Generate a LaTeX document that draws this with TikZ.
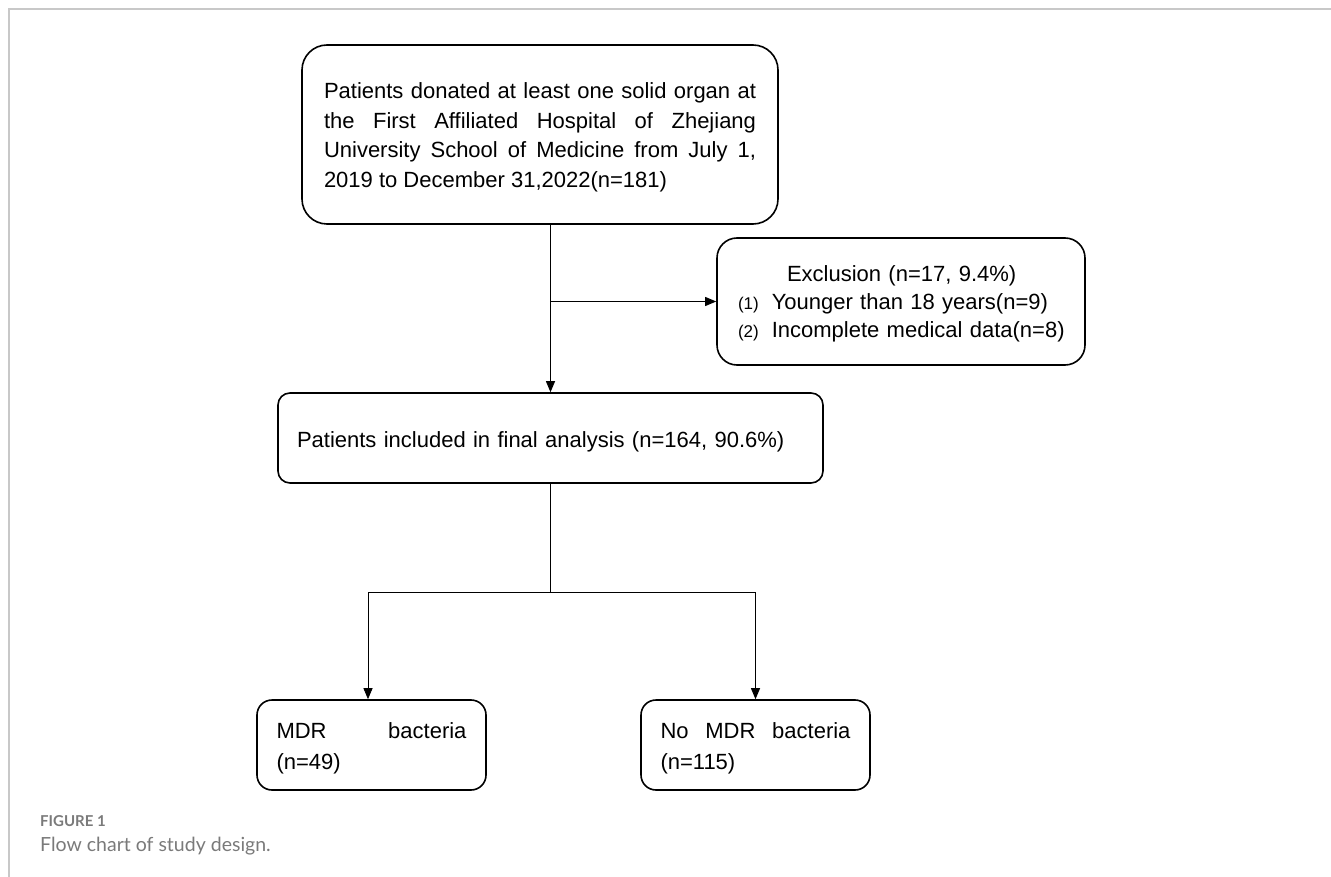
\documentclass[tikz,border=0pt]{standalone}
\usepackage{fontspec}
\setmainfont{Liberation Sans}
\newfontfamily\capfont{Lato}
\usepackage{tikz}
\usetikzlibrary{arrows.meta}
\definecolor{framegray}{HTML}{C8C8C8}
\definecolor{capgray}{HTML}{7A7A7A}
\newcommand{\lift}[1]{\rule{0pt}{#1}}

\begin{document}
\begin{tikzpicture}[x=1pt,y=1pt]
	\tikzstyle{every node}+=[inner sep=0pt]
	\tikzstyle{box}=[draw=black, line width=1.6pt, rounded corners=15pt, minimum width=229pt, minimum height=90pt, font=\fontsize{22}{31}\selectfont]
	\tikzstyle{link}=[line width=0.9pt, -{Triangle[length=11pt,width=9pt]}]
	\useasboundingbox (0,0) rectangle (1331,-877);
	\draw [framegray, line width=1.5pt] (9,-877) -- (9,-9) -- (1331,-9);
	\node [box, rounded corners=25pt, minimum width=476pt, minimum height=179pt, text width=432pt, align=justify, font=\fontsize{22}{29.5}\selectfont] (donor) at (540,-134.5) {\lift{22pt}Patients donated at least one solid organ at\linebreak the First Affiliated Hospital of Zhejiang\linebreak University School of Medicine from July 1,\linebreak 2019 to December 31,2022(n=181)};
	\node [box, rounded corners=20pt, minimum width=368pt, minimum height=127pt, text width=346pt, align=left, font=\fontsize{22}{28}\selectfont] (excl) at (901,-301.5) {\lift{20pt}\hspace*{59pt}Exclusion (n=17, 9.4\%)\\\hspace*{10pt}{\fontsize{17}{17}\selectfont(1)}\hspace{13pt}Younger than 18 years(n=9)\\\hspace*{10pt}{\fontsize{17}{17}\selectfont(2)}\hspace{13pt}Incomplete medical data(n=8)};
	\node [box, rounded corners=12pt, minimum width=545pt, minimum height=90pt, text width=507pt, align=left] (final) at (550.5,-438) {\lift{24pt}Patients included in final analysis (n=164, 90.6\%)};
	\node [box, text width=190pt, align=left] (mdr) at (371.5,-745) {\lift{23pt}MDR\hfill bacteria\\(n=49)};
	\node [box, text width=190pt, align=left] (nomdr) at (755.5,-745) {\lift{23pt}No\hfill MDR\hfill bacteria\\(n=115)};
	\coordinate (fork) at (550.5,-592);
	\draw [link] (donor.south -| final.north) -- (final.north);
	\draw [link] (excl.west -| final.north) -- (excl.west);
	\draw [line width=0.9pt] (final.south) -- (fork);
	\draw [link] (fork) -| ([xshift=-3.5pt]mdr.north);
	\draw [link] (fork) -| (nomdr.north);
	\node [anchor=base west, text=capgray, font=\capfont\bfseries\fontsize{15}{15}\selectfont] (figlabel) at (40,-826) {FIGURE 1};
	\node [anchor=base west, text=capgray, font=\capfont\fontsize{19.5}{19.5}\selectfont] (figcap) at (40,-851) {Flow chart of study design.};
\end{tikzpicture}
\end{document}
